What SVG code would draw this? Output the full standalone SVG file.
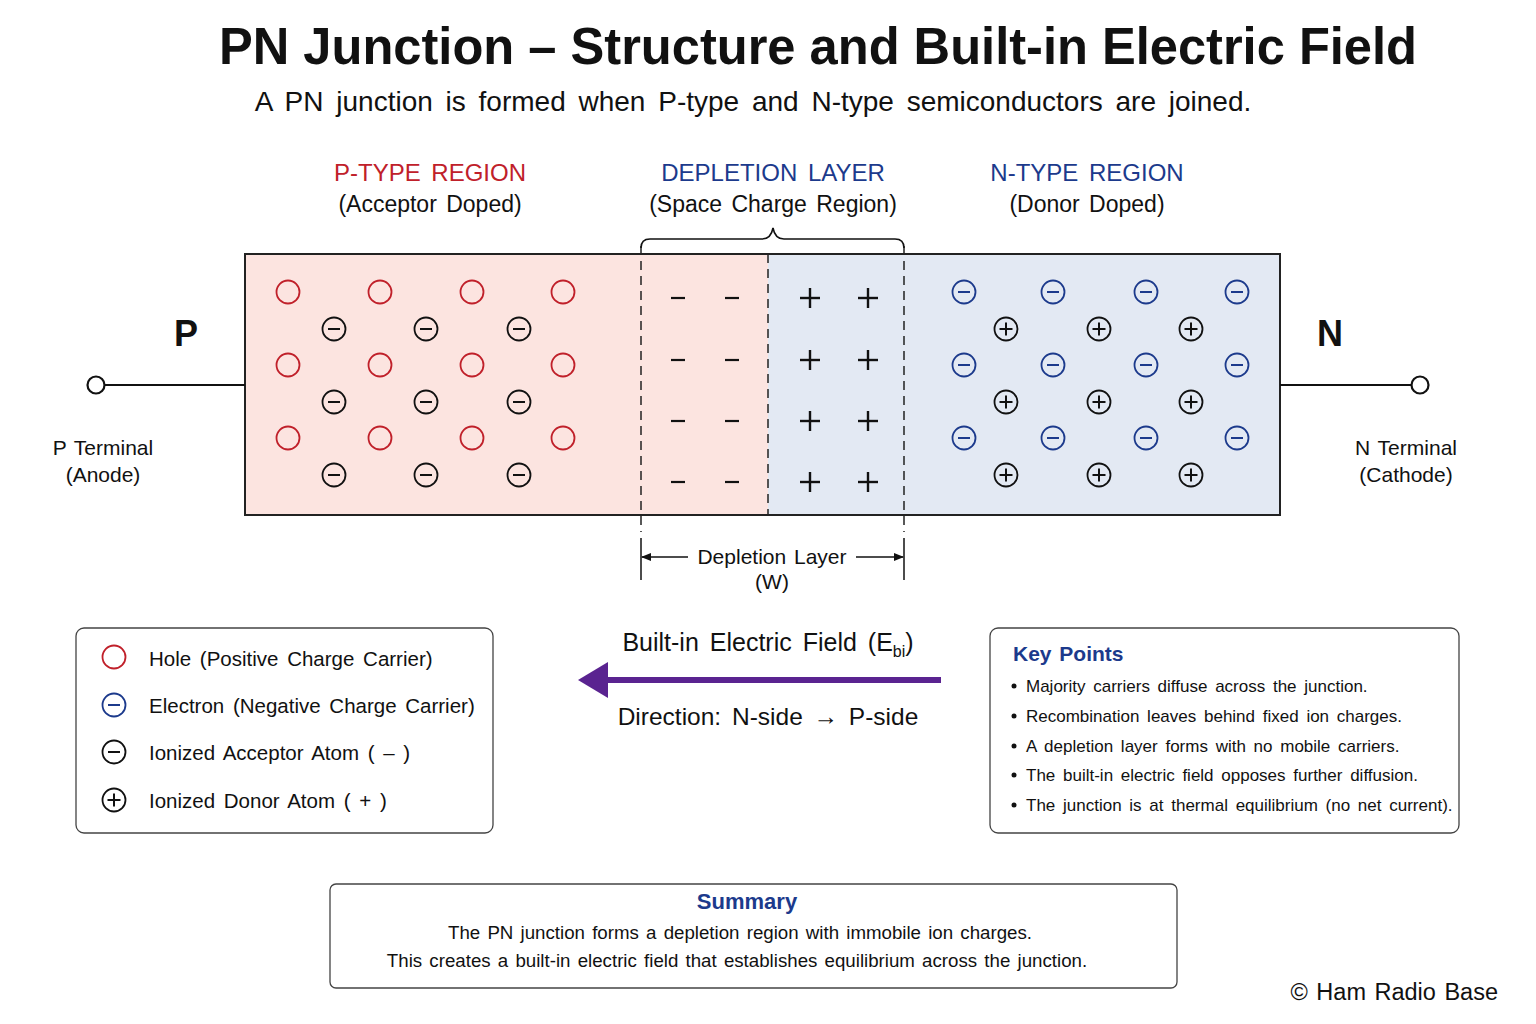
<svg xmlns="http://www.w3.org/2000/svg" xmlns:xlink="http://www.w3.org/1999/xlink" width="1536" height="1024" viewBox="0 0 1536 1024">
<style>
text{font-family:"Liberation Sans","Noto Sans",Arial,sans-serif;fill:#111}
.title{font-size:52px;font-weight:bold}
.sub{font-size:28px;word-spacing:5px}
.hdr{font-size:24px;word-spacing:4px}
.hdr2{font-size:23px;word-spacing:3px}
.red{fill:#c0202a}
.blue{fill:#1c3a8c}
.lbl{font-size:21px;word-spacing:2px}
.big{font-size:36px;font-weight:bold}
.leg{font-size:20.5px;word-spacing:3px}
.kp{font-size:17px;word-spacing:3px}
.sum{font-size:18.7px;word-spacing:2px}
.line{stroke:#111;fill:none}
.box{fill:#fff;stroke:#444;stroke-width:1.3}
.dash{stroke:#222;stroke-width:1.5;stroke-dasharray:9 6;fill:none}
</style>
<defs>
<g id="hole"><circle r="11.5" fill="none" stroke="#c0202a" stroke-width="1.8"/></g>
<g id="acc"><circle r="11.5" fill="none" stroke="#111" stroke-width="1.8"/><line x1="-6" y1="0" x2="6" y2="0" stroke="#111" stroke-width="2"/></g>
<g id="elec"><circle r="11.5" fill="none" stroke="#1c3a8c" stroke-width="1.8"/><line x1="-6" y1="0" x2="6" y2="0" stroke="#1c3a8c" stroke-width="2"/></g>
<g id="don"><circle r="11.5" fill="none" stroke="#111" stroke-width="1.8"/><line x1="-6.5" y1="0" x2="6.5" y2="0" stroke="#111" stroke-width="2"/><line x1="0" y1="-6.5" x2="0" y2="6.5" stroke="#111" stroke-width="2"/></g>
<g id="mn"><line x1="-7" y1="0" x2="7" y2="0" stroke="#111" stroke-width="2.2"/></g>
<g id="pl"><line x1="-10" y1="0" x2="10" y2="0" stroke="#111" stroke-width="2.4"/><line x1="0" y1="-10" x2="0" y2="10" stroke="#111" stroke-width="2.4"/></g>
<marker id="ah" viewBox="0 0 10 10" refX="9" refY="5" markerWidth="10" markerHeight="10" markerUnits="userSpaceOnUse" orient="auto-start-reverse"><path d="M0,1 L10,5 L0,9 z" fill="#111"/></marker>
</defs>
<rect width="1536" height="1024" fill="#fff"/>

<g id="title">
<text class="title" x="818" y="64" text-anchor="middle" textLength="1198" lengthAdjust="spacingAndGlyphs">PN Junction – Structure and Built-in Electric Field</text>
<text class="sub" x="753" y="111" text-anchor="middle">A PN junction is formed when P-type and N-type semiconductors are joined.</text>
</g>

<g id="headers">
<text class="hdr red" x="430" y="181" text-anchor="middle">P-TYPE REGION</text>
<text class="hdr2" x="430" y="212" text-anchor="middle">(Acceptor Doped)</text>
<text class="hdr blue" x="773" y="181" text-anchor="middle">DEPLETION LAYER</text>
<text class="hdr2" x="773" y="212" text-anchor="middle">(Space Charge Region)</text>
<text class="hdr blue" x="1087" y="181" text-anchor="middle">N-TYPE REGION</text>
<text class="hdr2" x="1087" y="212" text-anchor="middle">(Donor Doped)</text>
</g>

<g id="p-region">
<rect x="245" y="254" width="523" height="261" fill="#fce4e0"/>
<use href="#hole" x="288" y="292"/><use href="#hole" x="380" y="292"/><use href="#hole" x="472" y="292"/><use href="#hole" x="563" y="292"/>
<use href="#hole" x="288" y="365"/><use href="#hole" x="380" y="365"/><use href="#hole" x="472" y="365"/><use href="#hole" x="563" y="365"/>
<use href="#hole" x="288" y="438"/><use href="#hole" x="380" y="438"/><use href="#hole" x="472" y="438"/><use href="#hole" x="563" y="438"/>
<use href="#acc" x="334" y="329"/><use href="#acc" x="426" y="329"/><use href="#acc" x="519" y="329"/>
<use href="#acc" x="334" y="402"/><use href="#acc" x="426" y="402"/><use href="#acc" x="519" y="402"/>
<use href="#acc" x="334" y="475"/><use href="#acc" x="426" y="475"/><use href="#acc" x="519" y="475"/>
</g>

<g id="n-region">
<rect x="768" y="254" width="512" height="261" fill="#e3e9f3"/>
<use href="#elec" x="964" y="292"/><use href="#elec" x="1053" y="292"/><use href="#elec" x="1146" y="292"/><use href="#elec" x="1237" y="292"/>
<use href="#elec" x="964" y="365"/><use href="#elec" x="1053" y="365"/><use href="#elec" x="1146" y="365"/><use href="#elec" x="1237" y="365"/>
<use href="#elec" x="964" y="438"/><use href="#elec" x="1053" y="438"/><use href="#elec" x="1146" y="438"/><use href="#elec" x="1237" y="438"/>
<use href="#don" x="1006" y="329"/><use href="#don" x="1099" y="329"/><use href="#don" x="1191" y="329"/>
<use href="#don" x="1006" y="402"/><use href="#don" x="1099" y="402"/><use href="#don" x="1191" y="402"/>
<use href="#don" x="1006" y="475"/><use href="#don" x="1099" y="475"/><use href="#don" x="1191" y="475"/>
</g>

<g id="depletion">
<use href="#mn" x="678" y="298"/><use href="#mn" x="732" y="298"/>
<use href="#mn" x="678" y="360"/><use href="#mn" x="732" y="360"/>
<use href="#mn" x="678" y="421"/><use href="#mn" x="732" y="421"/>
<use href="#mn" x="678" y="482"/><use href="#mn" x="732" y="482"/>
<use href="#pl" x="810" y="298"/><use href="#pl" x="868" y="298"/>
<use href="#pl" x="810" y="360"/><use href="#pl" x="868" y="360"/>
<use href="#pl" x="810" y="421"/><use href="#pl" x="868" y="421"/>
<use href="#pl" x="810" y="482"/><use href="#pl" x="868" y="482"/>
<line class="dash" x1="641" y1="246" x2="641" y2="532"/>
<line class="dash" x1="904" y1="246" x2="904" y2="532"/>
<line class="dash" x1="768" y1="254" x2="768" y2="515"/>
<path class="line" stroke-width="1.6" d="M641,248 Q641,239 650,239 L762,239 Q771,239 773,228 Q775,239 784,239 L895,239 Q904,239 904,248"/>
</g>

<rect id="body-outline" x="245" y="254" width="1035" height="261" fill="none" stroke="#222" stroke-width="2"/>

<g id="terminals">
<line class="line" stroke-width="2.2" x1="105" y1="385" x2="245" y2="385"/>
<circle cx="96" cy="385" r="8.5" fill="#fff" stroke="#111" stroke-width="2.2"/>
<line class="line" stroke-width="2.2" x1="1280" y1="385" x2="1411" y2="385"/>
<circle cx="1420" cy="385" r="8.5" fill="#fff" stroke="#111" stroke-width="2.2"/>
<text class="big" x="186" y="346" text-anchor="middle">P</text>
<text class="big" x="1330" y="346" text-anchor="middle">N</text>
<text class="lbl" x="103" y="455" text-anchor="middle">P Terminal</text>
<text class="lbl" x="103" y="482" text-anchor="middle">(Anode)</text>
<text class="lbl" x="1406" y="455" text-anchor="middle">N Terminal</text>
<text class="lbl" x="1406" y="482" text-anchor="middle">(Cathode)</text>
</g>

<g id="width-dim">
<line class="line" stroke-width="1.5" x1="641" y1="538" x2="641" y2="580"/>
<line class="line" stroke-width="1.5" x1="904" y1="538" x2="904" y2="580"/>
<line class="line" stroke-width="1.5" x1="642" y1="557" x2="688" y2="557" marker-start="url(#ah)"/>
<line class="line" stroke-width="1.5" x1="856" y1="557" x2="903" y2="557" marker-end="url(#ah)"/>
<text class="lbl" x="772" y="564" text-anchor="middle">Depletion Layer</text>
<text class="lbl" x="772" y="589" text-anchor="middle">(W)</text>
</g>

<g id="legend">
<rect class="box" x="76" y="628" width="417" height="205" rx="8"/>
<use href="#hole" x="114" y="657"/>
<use href="#elec" x="114" y="705"/>
<use href="#acc" x="114" y="752"/>
<use href="#don" x="114" y="800"/>
<text class="leg" x="149" y="666">Hole (Positive Charge Carrier)</text>
<text class="leg" x="149" y="713">Electron (Negative Charge Carrier)</text>
<text class="leg" x="149" y="760">Ionized Acceptor Atom ( – )</text>
<text class="leg" x="149" y="808">Ionized Donor Atom ( + )</text>
</g>

<g id="field">
<text x="768" y="651" text-anchor="middle" font-size="25" word-spacing="4">Built-in Electric Field (E<tspan font-size="16" dy="6">bi</tspan><tspan dy="-6">)</tspan></text>
<line x1="604" y1="680" x2="941" y2="680" stroke="#5a2390" stroke-width="6"/>
<path d="M578,680 L608,662 L608,698 z" fill="#5a2390"/>
<text x="768" y="725" text-anchor="middle" font-size="24.5" word-spacing="4">Direction: N-side → P-side</text>
</g>

<g id="key-points">
<rect class="box" x="990" y="628" width="469" height="205" rx="8"/>
<text x="1013" y="661" font-size="21" font-weight="bold" class="blue" word-spacing="2">Key Points</text>
<circle cx="1014" cy="686" r="2.5" fill="#111"/><text class="kp" x="1026" y="692">Majority carriers diffuse across the junction.</text>
<circle cx="1014" cy="716" r="2.5" fill="#111"/><text class="kp" x="1026" y="722">Recombination leaves behind fixed ion charges.</text>
<circle cx="1014" cy="746" r="2.5" fill="#111"/><text class="kp" x="1026" y="752">A depletion layer forms with no mobile carriers.</text>
<circle cx="1014" cy="775" r="2.5" fill="#111"/><text class="kp" x="1026" y="781">The built-in electric field opposes further diffusion.</text>
<circle cx="1014" cy="805" r="2.5" fill="#111"/><text class="kp" x="1026" y="811">The junction is at thermal equilibrium (no net current).</text>
</g>

<g id="summary">
<rect class="box" x="330" y="884" width="847" height="104" rx="6"/>
<text x="747" y="909" font-size="22" font-weight="bold" class="blue" text-anchor="middle">Summary</text>
<text class="sum" x="740" y="939" text-anchor="middle">The PN junction forms a depletion region with immobile ion charges.</text>
<text class="sum" x="737" y="967" text-anchor="middle">This creates a built-in electric field that establishes equilibrium across the junction.</text>
</g>

<text id="credit" x="1498" y="1000" font-size="23.5" text-anchor="end" word-spacing="2">© Ham Radio Base</text>
</svg>
